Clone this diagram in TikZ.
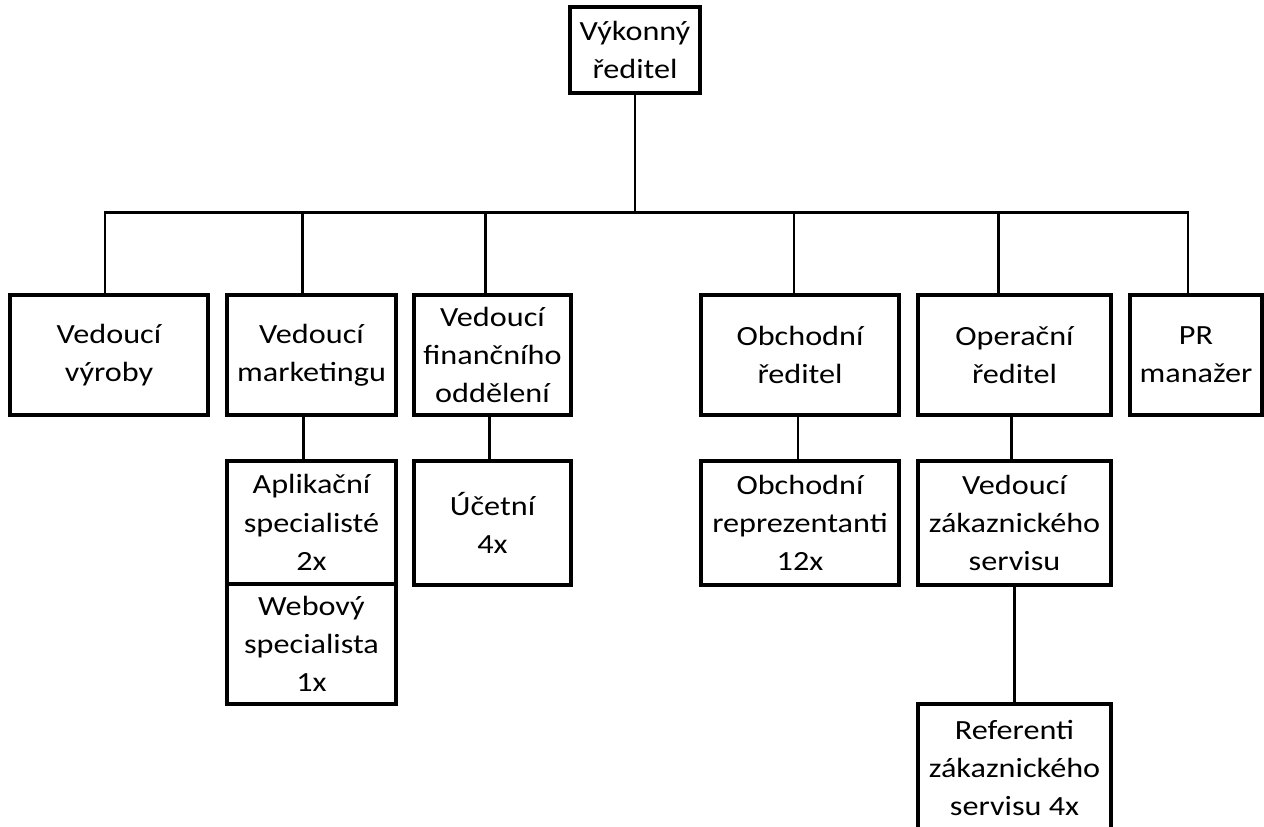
\documentclass[tikz,border=0pt]{standalone}
\usepackage{fontspec}
\setmainfont[FakeStretch=1.16]{Carlito}
\usepackage{tikz}
\usetikzlibrary{
	positioning
}
\tikzset{
	role/.style={
		draw=black,
		line width=1.8pt,
		outer sep=0pt,
		inner sep=2pt,
		align=center,
		font=\fontsize{15.8}{21.8}\selectfont
	},
	link/.style={
		draw=black,
		line width=1.2pt
	}
}

\begin{document}
\begin{tikzpicture}
				
				\useasboundingbox (0,0) rectangle (25.28,-16.54);
				
				\node[
				role,
				minimum width=2.6cm,
				minimum height=1.72cm
				] (VR) at (12.7,-1.0) {Výkonný\\ředitel};
				
				\node[
				role,
				minimum width=3.96cm,
				minimum height=2.4cm
				] (VV) at (2.18,-7.1) {Vedoucí\\výroby};
				
				\node[
				role,
				right=0.38cm of VV,
				minimum width=3.38cm,
				minimum height=2.4cm
				] (VM) {Vedoucí\\marketingu};
				
				\node[
				role,
				right=0.36cm of VM,
				minimum width=3.14cm,
				minimum height=2.4cm
				] (VF) {Vedoucí\\finančního\\oddělení};
				
				\node[
				role,
				right=2.6cm of VF,
				minimum width=3.96cm,
				minimum height=2.4cm
				] (OR) {Obchodní\\ředitel};
				
				\node[
				role,
				right=0.38cm of OR,
				minimum width=3.86cm,
				minimum height=2.4cm
				] (OP) {Operační\\ředitel};
				
				\node[
				role,
				right=0.38cm of OP,
				minimum width=2.64cm,
				minimum height=2.4cm
				] (PR) {PR\\manažer};
				
				\node[
				role,
				below=0.92cm of VM,
				minimum width=3.38cm,
				minimum height=2.46cm
				] (AS) {Aplikační\\specialisté\\2x};
				
				\node[
				role,
				below=0cm of AS,
				minimum width=3.38cm,
				minimum height=2.4cm
				] (WS) {Webový\\specialista\\1x};
				
				\node[
				role,
				below=0.92cm of VF,
				minimum width=3.14cm,
				minimum height=2.48cm
				] (UC) {Účetní\\4x};
				
				\node[
				role,
				below=0.92cm of OR,
				minimum width=3.96cm,
				minimum height=2.48cm
				] (RE) {Obchodní\\reprezentanti\\12x};
				
				\node[
				role,
				below=0.92cm of OP,
				minimum width=3.86cm,
				minimum height=2.48cm
				] (ZS) {Vedoucí\\zákaznického\\servisu};
				
				\node[
				role,
				below=2.38cm of ZS,
				minimum width=3.86cm,
				minimum height=2.56cm
				] (RZ) {Referenti\\zákaznického\\servisu 4x};
				
				\coordinate (bus) at (12.7,-4.25);
				
				\draw[link] (VR.south) -- (bus);
				\draw[link] ([xshift=-0.08cm]VV.north) |- (bus) -| ([xshift=-0.16cm]PR.north);
				\foreach \n/\dx in {VM/-0.18,VF/-0.14,OR/-0.12,OP/-0.32}
				\draw[link] ([xshift=\dx cm]\n.north) -- ([xshift=\dx cm]\n.north |- bus);
				
				\draw[link] ([xshift=-0.16cm]VM.south) -- ([xshift=-0.16cm]AS.north);
				\draw[link] ([xshift=-0.06cm]VF.south) -- ([xshift=-0.06cm]UC.north);
				\draw[link] ([xshift=-0.04cm]OR.south) -- ([xshift=-0.04cm]RE.north);
				\draw[link] ([xshift=-0.06cm]OP.south) -- ([xshift=-0.06cm]ZS.north);
				\draw[link] (ZS.south) -- (RZ.north);
				
			\end{tikzpicture}
\end{document}
